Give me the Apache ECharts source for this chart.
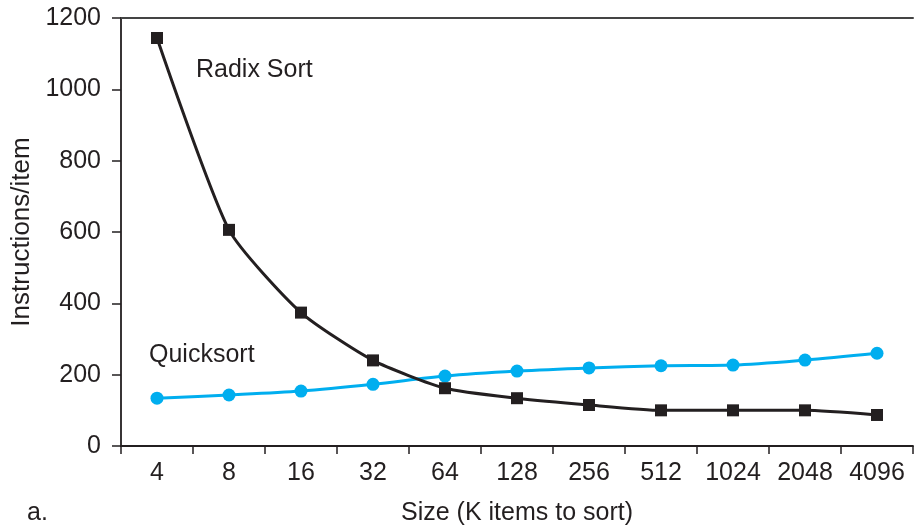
<!DOCTYPE html>
<html>
<head>
<meta charset="utf-8">
<script src="https://cdn.jsdelivr.net/npm/echarts@6/dist/echarts.min.js"></script>
<style>html,body{margin:0;padding:0;background:#fff}#c{width:915px;height:531px}</style>
</head>
<body>
<div id="c"></div>
<script>
const categories = ['4', '8', '16', '32', '64', '128', '256', '512', '1024', '2048', '4096'];
const radixSort = [1144, 606, 374, 240, 162, 134, 115, 100, 100, 100, 87];
const quicksort = [134, 143, 154, 173, 196, 210, 219, 225, 227, 241, 260];
const yTicks = [0, 200, 400, 600, 800, 1000, 1200];

const txt = '#231f20';
const font = 'Liberation Sans, Arial, Helvetica, sans-serif';
const chart = echarts.init(document.getElementById('c'));
chart.setOption({
  animation: false,
  textStyle: { fontFamily: font },
  grid: { left: 121, right: 2, top: 18, bottom: 83, containLabel: false },
  xAxis: [{
    type: 'category',
    data: categories,
    boundaryGap: true,
    name: 'Size (K items to sort)',
    nameLocation: 'middle',
    nameGap: 55,
    nameTextStyle: { fontSize: 25, color: txt, fontFamily: font },
    axisLine: { lineStyle: { color: '#231f20', width: 1.8 } },
    axisTick: { show: true, inside: false, length: 8, interval: 0, alignWithLabel: false, lineStyle: { color: '#231f20', width: 1.5 } },
    axisLabel: { fontSize: 25, color: txt, margin: 15, interval: 0, fontFamily: font },
    splitLine: { show: false }
  }, {
    type: 'category',
    position: 'top',
    data: categories,
    axisLine: { show: true, lineStyle: { color: '#444', width: 2 } },
    axisTick: { show: false },
    axisLabel: { show: false },
    splitLine: { show: false }
  }],
  yAxis: {
    type: 'value',
    min: yTicks[0],
    max: yTicks[yTicks.length - 1],
    interval: 200,
    name: 'Instructions/item',
    nameLocation: 'middle',
    nameGap: 86,
    nameRotate: 90,
    nameTextStyle: { fontSize: 26, color: txt, fontFamily: font },
    axisLine: { show: true, lineStyle: { color: '#231f20', width: 1.8 } },
    axisTick: { show: true, inside: false, length: 9, lineStyle: { color: '#231f20', width: 1.5 } },
    axisLabel: { fontSize: 25, color: txt, margin: 20, fontFamily: font, formatter: v => String(v) },
    splitLine: { show: false }
  },
  series: [{
    name: 'Radix Sort',
    type: 'line',
    data: radixSort,
    smooth: 0.2,
    symbol: 'rect',
    symbolSize: 12,
    itemStyle: { color: '#231f20' },
    lineStyle: { color: '#231f20', width: 3 },
    z: 3
  }, {
    name: 'Quicksort',
    type: 'line',
    data: quicksort,
    smooth: 0.3,
    symbol: 'circle',
    symbolSize: 13,
    itemStyle: { color: '#00aeef' },
    lineStyle: { color: '#00aeef', width: 3 },
    z: 2
  }],
  graphic: [
    { type: 'text', left: 196, top: 58, style: { text: 'Radix Sort', fontSize: 25, fill: txt, fontFamily: font } },
    { type: 'text', left: 149, top: 343, style: { text: 'Quicksort', fontSize: 25, fill: txt, fontFamily: font } },
    { type: 'text', left: 27, top: 501, style: { text: 'a.', fontSize: 25, fill: txt, fontFamily: font } }
  ]
});
</script>
</body>
</html>
